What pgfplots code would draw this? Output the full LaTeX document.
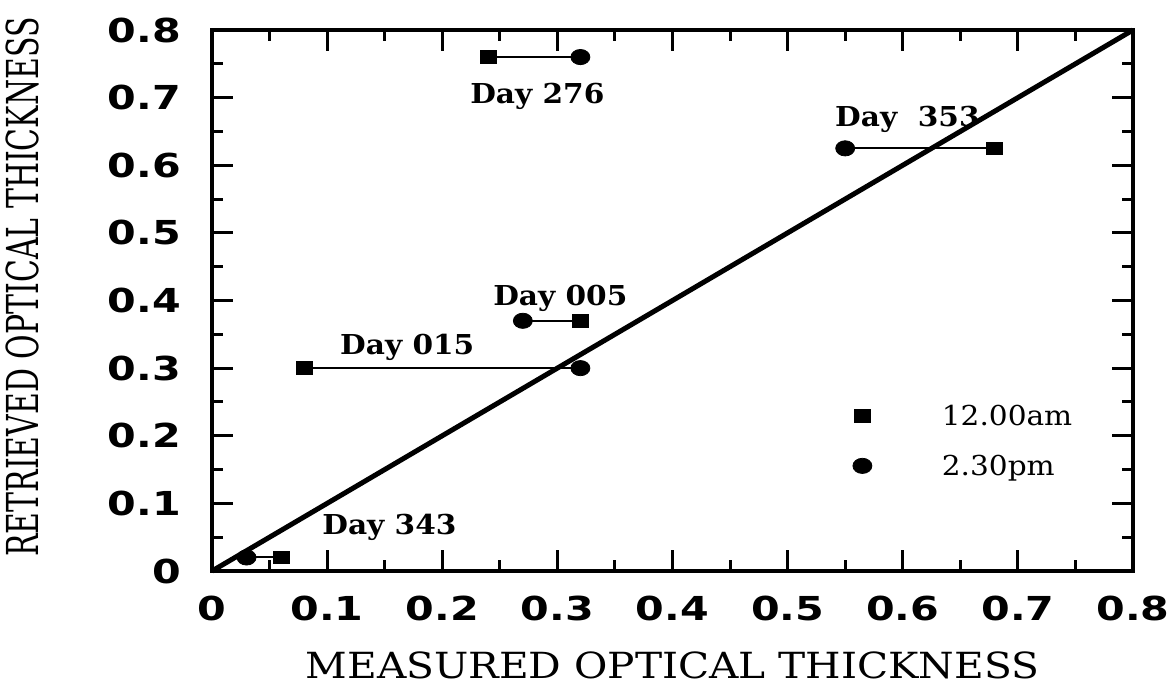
\documentclass[border=0pt]{standalone}
\usepackage{fontspec}
\usepackage{pgfplots}
\usepackage{pgfplotstable}
\pgfplotsset{compat=1.18}
\setmainfont{DejaVu Serif}
\newfontfamily\tickfont{DejaVu Sans}[FakeStretch=1.25]
\newfontfamily\ylabfont{DejaVu Serif}[FakeStretch=0.68]
\newfontfamily\xlabfont{DejaVu Serif}[FakeStretch=1.13]
\newfontfamily\dayfont{DejaVu Serif}[FakeStretch=1.08]

% 12.00am observations (measured, retrieved)
\pgfplotstableread{
x y
0.24 0.76
0.68 0.625
0.32 0.37
0.08 0.30
0.06 0.02
}\amdata
% 2.30pm observations (measured, retrieved)
\pgfplotstableread{
x y
0.32 0.76
0.55 0.625
0.27 0.37
0.32 0.30
0.03 0.02
}\pmdata

\begin{document}
\begin{tikzpicture}
\useasboundingbox (-106pt,-60pt) rectangle (479.5pt,285.5pt);
\begin{axis}[
  at={(0pt,0pt)}, anchor=south west,
  scale only axis, width=460.5pt, height=270.5pt,
  xmin=0, xmax=0.8, ymin=0, ymax=0.8,
  axis line style={line width=2pt},
  xtick={0,0.1,...,0.8}, ytick={0,0.1,...,0.8},
  xticklabels={0,0.1,0.2,0.3,0.4,0.5,0.6,0.7,0.8},
  yticklabels={0,0.1,0.2,0.3,0.4,0.5,0.6,0.7,0.8},
  minor tick num=1,
  tick align=inside, xtick pos=both, ytick pos=both,
  major tick length=10.5pt, minor tick length=5.5pt,
  every tick/.style={black, line width=1.5pt},
  ticklabel style={font=\tickfont\bfseries\fontsize{16.5pt}{18pt}\selectfont},
  yticklabel style={xshift=-12pt},
  xticklabel style={yshift=-9pt},
  xlabel={MEASURED OPTICAL THICKNESS},
  ylabel={RETRIEVED OPTICAL THICKNESS},
  every axis x label/.style={at={(axis description cs:0.5,0)}, anchor=center, yshift=-47pt,
    font=\xlabfont\fontsize{18pt}{20pt}\selectfont},
  every axis y label/.style={at={(axis description cs:-0.206,0.525)}, anchor=center, rotate=90,
    font=\ylabfont\fontsize{22pt}{24pt}\selectfont},
  legend cell align=left,
  legend style={draw=none, fill=none, inner sep=0pt, outer sep=0pt,
    at={(axis cs:0.652,0.188)}, anchor=center,
    font=\dayfont\fontsize{13.7pt}{15pt}\selectfont,
    column sep=35pt, row sep=12pt,
    nodes={inner sep=0pt, text height=10pt, text depth=3pt}},
  legend image code/.code={\draw[#1] plot coordinates {(0pt,1.5pt)};},
  clip=false,
]
% day-to-day connectors
\addplot[black, line width=1pt, forget plot] coordinates {(0.24,0.76) (0.32,0.76)};
\addplot[black, line width=1pt, forget plot] coordinates {(0.55,0.625) (0.68,0.625)};
\addplot[black, line width=1pt, forget plot] coordinates {(0.27,0.37) (0.32,0.37)};
\addplot[black, line width=1pt, forget plot] coordinates {(0.08,0.30) (0.32,0.30)};
\addplot[black, line width=1pt, forget plot] coordinates {(0.03,0.02) (0.06,0.02)};
% one-to-one line
\addplot[black, line width=2.5pt, forget plot] coordinates {(0,0) (0.8,0.8)};
% observations
\addplot[only marks, mark=square*, mark size=4pt, mark options={black, yscale=0.8}] table {\amdata};
\addlegendentry{12.00am}
\addplot[only marks, mark=*, mark size=4.75pt, mark options={black, yscale=0.8}] table {\pmdata};
\addlegendentry{2.30pm}
% day labels
\begin{scope}[every node/.style={anchor=base west, inner sep=0pt,
    font=\dayfont\bfseries\fontsize{13.7pt}{15pt}\selectfont}]
\node at (axis cs:0.224,0.691) {Day 276};
\node at (axis cs:0.541,0.658) {Day\ \ 353};
\node at (axis cs:0.244,0.393) {Day 005};
\node at (axis cs:0.111,0.3195) {Day 015};
\node at (axis cs:0.0955,0.0533) {Day 343};
\end{scope}
\end{axis}
\end{tikzpicture}
\end{document}
